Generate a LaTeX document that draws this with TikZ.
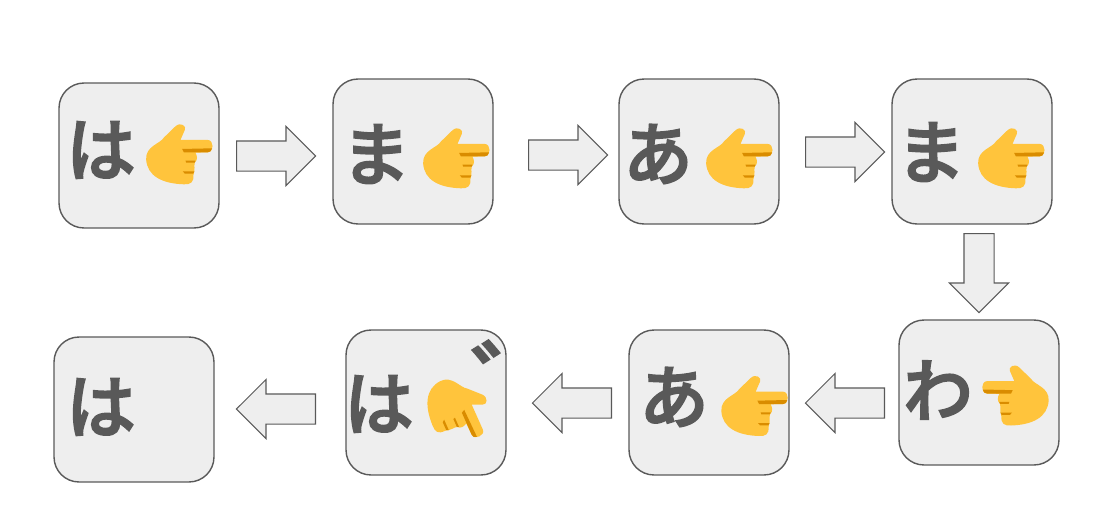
\documentclass[tikz,border=0pt]{standalone}
\usepackage{fontspec}
\newfontfamily\jpfont[FakeBold=2.5]{Noto Sans CJK JP Medium}
\usetikzlibrary{shapes.arrows}
\definecolor{boxfill}{HTML}{EEEEEE}
\definecolor{boxline}{HTML}{595959}
\definecolor{handskin}{HTML}{FFC43C}
\definecolor{handdark}{HTML}{D98C00}
\tikzset{
	cardbox/.style={draw=boxline, fill=boxfill, line width=0.8pt, rounded corners=0.5cm, minimum width=3.2cm, minimum height=2.9cm, inner sep=0},
	letter/.style={font=\jpfont\fontsize{39.5}{40}\selectfont, text=boxline, inner sep=0},
	blockarrow/.style={single arrow, anchor=tail, draw=boxline, fill=boxfill, line width=0.6pt, inner sep=0, text height=0.58cm, text depth=0cm, minimum height=1.58cm, minimum width=1.16cm, single arrow head extend=0.29cm},
	handright/.pic={
		\fill[handskin] (18,-73) .. controls (25,-85) and (5,-98) .. (-10,-84)
			-- (-45,-50) .. controls (-55,-32) and (-100,-25) .. (-98,15)
			.. controls (-95,65) and (-50,88) .. (15,90)
			.. controls (35,91) and (45,85) .. (44,62)
			.. controls (50,45) and (45,35) .. (48,25)
			.. controls (58,15) and (55,5) .. (50,-5)
			-- (87,-6) .. controls (106,-6) and (106,-43) .. (87,-43)
			-- (5,-43) -- cycle;
		\fill[handdark] (10,-16) -- (100,-18) .. controls (98,-9) and (93,-6) .. (87,-6) -- (15,-6) -- cycle;
		\fill[handdark] (20,19) -- (50,19) -- (48,25) -- (22,25) -- cycle;
		\fill[handdark] (12,51) -- (47,51) -- (43,58) -- (18,58) -- cycle;
	}
}
\begin{document}
\begin{tikzpicture}[x=0.02cm, y=-0.02cm]
	\useasboundingbox (0,0) rectangle (1120,514);

	% Cards
	\node[cardbox] (card1) at (139,155.5) {};
	\node[cardbox] (card2) at (413,151.5) {};
	\node[cardbox] (card3) at (699,151.5) {};
	\node[cardbox] (card4) at (972,151.5) {};
	\node[cardbox] (card5) at (979,392.5) {};
	\node[cardbox] (card6) at (709,402.5) {};
	\node[cardbox] (card7) at (426,402.5) {};
	\node[cardbox] (card8) at (134,409.5) {};

	% Block arrows
	\node[blockarrow] (step1) at (236,156) {};
	\node[blockarrow] (step2) at (528,155) {};
	\node[blockarrow] (step3) at (805,152) {};
	\node[blockarrow, rotate=-90] (step4) at (979,233) {};
	\node[blockarrow, rotate=180] (step5) at (885,403) {};
	\node[blockarrow, rotate=180] (step6) at (612,403) {};
	\node[blockarrow, rotate=180] (step7) at (316,409) {};

	% Letters
	\node[letter] (kana1) at (101,150) {は};
	\node[letter] (kana2) at (376,154) {ま};
	\node[letter] (kana3) at (658,154) {あ};
	\node[letter] (kana4) at (931,152) {ま};
	\node[letter] (kana5) at (938,390) {わ};
	\node[letter] (kana6) at (674,397) {あ};
	\node[letter] (kana7) at (379,404) {は};
	\node[letter] (kana8) at (101,407) {は};
	\node[letter, font=\jpfont\fontsize{50}{50}\selectfont, rotate=10] (mark7) at (520,372.5) {゛};

	% Hands
	\pic[scale=1/3] at (178.8,154.3) {handright};
	\pic[scale=1/3] at (455.8,158.3) {handright};
	\pic[scale=1/3] at (738.8,158.3) {handright};
	\pic[scale=1/3] at (1010.8,158.3) {handright};
	\pic[xscale=-1/3, yscale=1/3] at (1016,395.5) {handright};
	\pic[scale=1/3] at (754,406) {handright};
	\pic[scale=1/3, rotate=-66] at (458,409) {handright};
\end{tikzpicture}
\end{document}
